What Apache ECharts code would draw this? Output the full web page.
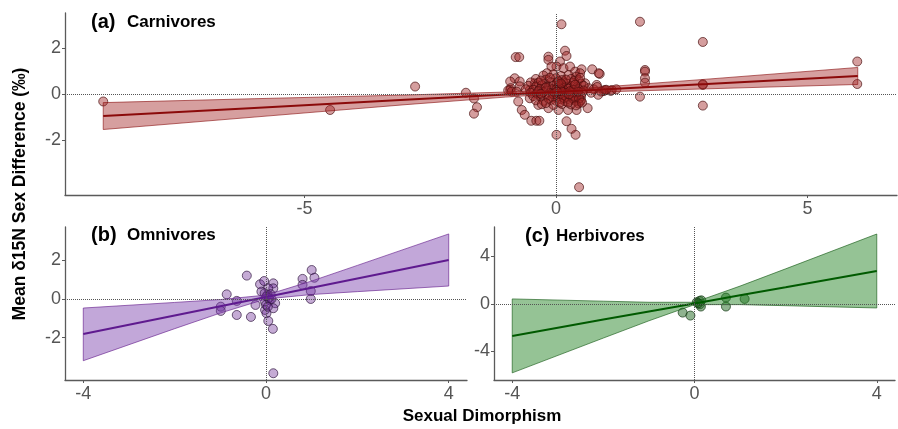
<!DOCTYPE html>
<html>
<head>
<meta charset="utf-8">
<script src="https://cdn.jsdelivr.net/npm/echarts@6/dist/echarts.min.js"></script>
<style>
  html, body { margin: 0; padding: 0; background: #fff; }
  #chart { width: 898px; height: 429px; }
</style>
</head>
<body>
<div id="chart"></div>
<script>
// ---------- data ----------
// Carnivores: [sexual dimorphism, mean d15N sex difference]
const carnivorePoints = [
  [-9.0,-0.33],[-4.49,-0.70],[-2.8,0.32],[-1.79,0.05],[-1.63,-0.2],[-1.57,-0.58],[-1.63,-0.86],
  [1.67,3.14],[2.92,2.26],[5.99,1.41],[5.99,0.43],[2.92,0.39],[2.92,0.42],[2.92,-0.51],[1.67,-0.12],
  [1.77,1.04],[1.77,0.97],[1.77,0.68],[1.77,0.49],[1.09,0.13],[0.95,0.12],[0.87,0.87],
  [0.11,3.03],[0.46,-4.06],[0.01,-1.78],[0.39,-1.78],[0.31,-1.52],[0.21,-1.19],[-0.49,-1.17],[-0.39,-1.17],[-0.33,-1.17],
  [-0.8,1.6],[-0.73,1.6],[-0.15,1.62],[-0.15,1.48],[0.18,1.88],[0.21,1.65],[0.08,1.41],[0.01,1.19],[0.15,1.12],
  [0.28,1.19],[0.38,0.97],[0.51,1.07],[0.72,1.07],[0.85,0.9],[0.48,0.9],[-0.09,1.19],[-0.18,0.9],
  [-0.82,0.68],[-0.72,0.54],[-0.91,0.54],[-0.91,0.17],[-0.9,0.25],[-0.72,0.33],[-0.42,0.46],[-0.52,0.17],[-0.52,-0.19],[-0.35,-0.04],
  [0.58,0.46],[0.81,0.39],[0.97,0.17],[0.84,-0.04],[1.11,0.17],
  [-0.75,-0.33],[-0.68,-0.7],[-0.62,-0.91],[-0.35,-0.48],[-0.15,-0.62],[0.05,-0.7],[0.24,-0.7],[0.41,-0.7],[0.63,-0.62],[0.48,-0.33],
  [-0.95,0.15],[-0.88,0.1],[-0.78,0.1],[0.65,0.25],[0.75,0.2],[0.82,0.3],[0.9,0.1],[1.0,0.18],[1.2,0.2],[0.7,0.05],
  [-0.25,0.8],[-0.05,0.85],[0.1,0.78],[0.25,0.82],[0.4,0.75],
  [-0.4,0.65],[-0.2,0.62],[0.0,0.68],[0.12,0.6],[0.3,0.65],[0.45,0.6],
  [-0.5,0.5],[-0.35,0.48],[-0.22,0.45],[-0.1,0.5],[0.02,0.46],[0.15,0.5],[0.22,0.44],[0.35,0.48],[0.5,0.45],
  [-0.55,0.35],[-0.4,0.32],[-0.28,0.38],[-0.15,0.3],[-0.05,0.36],[0.05,0.32],[0.12,0.38],[0.2,0.3],[0.3,0.35],[0.42,0.3],[0.55,0.35],
  [-0.6,0.2],[-0.45,0.18],[-0.32,0.22],[-0.2,0.15],[-0.08,0.2],[0.0,0.18],[0.08,0.24],[0.16,0.16],[0.25,0.22],[0.35,0.18],[0.45,0.2],[0.55,0.15],
  [-0.5,0.05],[-0.38,0.02],[-0.25,0.08],[-0.12,0.04],[-0.02,0.06],[0.06,0.0],[0.14,0.08],[0.22,0.02],[0.32,0.06],[0.42,0.0],[0.52,0.05],
  [-0.45,-0.1],[-0.3,-0.12],[-0.18,-0.08],[-0.06,-0.14],[0.04,-0.1],[0.12,-0.06],[0.2,-0.12],[0.3,-0.08],[0.4,-0.14],[0.5,-0.1],
  [-0.4,-0.28],[-0.25,-0.3],[-0.1,-0.26],[0.0,-0.3],[0.1,-0.24],[0.18,-0.32],[0.28,-0.26],[0.38,-0.3],[0.5,-0.28],
  [-0.28,-0.45],[-0.05,-0.48],[0.12,-0.44],[0.3,-0.46],[0.45,-0.42],
  [-0.3,0.58],[-0.12,0.7],[0.05,0.55],[0.2,0.62],[0.36,0.56],[0.48,0.7],
  [-0.2,0.28],[0.1,0.12],[0.28,0.12],[0.38,0.4],[-0.05,-0.02],[0.16,-0.18],[0.34,-0.2],[0.46,-0.2],
  [-0.35,0.12],[-0.14,-0.2],[0.08,-0.38],[0.24,-0.38],[0.4,-0.5],[0.52,-0.38],[-0.2,-0.4],[0.02,0.1],
  [0.26,-0.02],[0.1,0.45],[-0.3,0.0],[0.44,0.1]
];
const carnivoreFitX  = [-9, -6, -3, -1, 0, 1, 3, 6];
const carnivoreFitY  = [-0.96, -0.61, -0.26, -0.03, 0.08, 0.20, 0.43, 0.78];
const carnivoreLower = [-1.55, -1.01, -0.47, -0.14, 0.00, 0.09, 0.22, 0.41];
const carnivoreUpper = [-0.38, -0.21, -0.05, 0.08, 0.16, 0.31, 0.64, 1.15];

// Omnivores
const omnivorePoints = [
  [-0.42,1.21],[-0.86,0.24],[-0.64,-0.1],[-0.64,-0.83],[-0.33,-0.93],[-0.23,-0.31],[-0.13,0.76],[-0.04,0.93],
  [0.16,0.81],[0.16,0.55],[0.05,0.55],[-0.1,0.38],[0.01,0.12],[-0.02,-0.14],[0.08,-0.05],[0.2,-0.22],
  [0.16,-0.48],[-0.02,-0.57],[0.01,-0.74],[0.05,-1.14],[0.15,-1.55],[0.16,-3.85],[0.8,1.04],[0.8,0.73],
  [1.0,1.5],[1.06,1.1],[0.98,0.41],[0.98,0.0],[-0.99,-0.4],[-0.99,-0.62],[0.03,0.2],[0.06,0.05],
  [-0.03,0.3],[0.1,0.25],[0.0,-0.3],[0.04,-0.4],[0.12,0.0]
];
const omnivoreFitX  = [-4, -2, -1, 0, 1, 2, 4];
const omnivoreFitY  = [-1.82, -0.86, -0.38, 0.10, 0.58, 1.06, 2.02];
const omnivoreLower = [-3.20, -1.54, -0.73, 0.00, 0.23, 0.38, 0.67];
const omnivoreUpper = [-0.47, -0.18, -0.03, 0.20, 0.93, 1.74, 3.37];

// Herbivores
const herbivorePoints = [
  [-0.26,-0.73],[-0.09,-0.98],[0.11,0.25],[0.12,-0.03],[0.14,-0.22],[0.05,0.14],
  [0.69,0.53],[0.69,-0.22],[1.1,0.42],[0.15,0.3],[0.08,0.05]
];
const herbivoreFitX  = [-4, -2, -1, 0, 1, 2, 4];
const herbivoreFitY  = [-2.69, -1.32, -0.64, 0.04, 0.72, 1.40, 2.77];
const herbivoreLower = [-5.80, -2.87, -1.42, -0.06, -0.06, -0.15, -0.34];
const herbivoreUpper = [0.42, 0.23, 0.14, 0.14, 1.50, 2.95, 5.88];

// tick labels
const carnivoreXTicks = [-5, 0, 5];
const carnivoreYTicks = [-2, 0, 2];
const omnivoreXTicks = [-4, 0, 4];
const omnivoreYTicks = [-2, 0, 2];
const herbivoreXTicks = [-4, 0, 4];
const herbivoreYTicks = [-4, 0, 4];

// ---------- styling ----------
const FONT = 'Liberation Sans, Arial, sans-serif';
const AXIS_COLOR = '#5a5a5a';
const LABEL_COLOR = '#555';

function valueAxis(gridIndex, min, max, ticks, isY) {
  return {
    type: 'value', gridIndex, min, max,
    axisLine: { show: true, onZero: false, lineStyle: { color: AXIS_COLOR, width: 1.3 } },
    axisTick: { show: true, length: 3, customValues: ticks, lineStyle: { color: AXIS_COLOR } },
    axisLabel: {
      customValues: ticks, color: LABEL_COLOR, fontSize: 18, fontFamily: FONT,
      margin: isY ? 4 : 5,
      formatter: v => String(v)
    },
    splitLine: { show: false }
  };
}

function pointsSeries(gi, data, fill, border, size) {
  return {
    type: 'scatter', xAxisIndex: gi, yAxisIndex: gi, data,
    symbolSize: size, z: 2,
    itemStyle: { color: fill, borderColor: border, borderWidth: 1 },
    markLine: {
      silent: true, symbol: ['none', 'none'], label: { show: false },
      lineStyle: { type: 'dotted', color: '#555', width: 1 },
      animation: false,
      data: [{ yAxis: 0 }, { xAxis: 0 }]
    }
  };
}

function bandSeries(gi, xs, lo, hi, fill, stroke) {
  const rows = xs.map((x, i) => [x, lo[i], hi[i]]);
  return {
    type: 'custom', xAxisIndex: gi, yAxisIndex: gi, data: rows, z: 3, silent: true, clip: true,
    encode: { x: 0, y: [1, 2] },
    renderItem(params, api) {
      if (params.dataIndex !== 0) return null;
      const pts = [];
      rows.forEach(r => pts.push(api.coord([r[0], r[2]])));
      for (let i = rows.length - 1; i >= 0; i--) pts.push(api.coord([rows[i][0], rows[i][1]]));
      return { type: 'polygon', shape: { points: pts }, style: { fill, stroke, lineWidth: 0.8 } };
    }
  };
}

function fitSeries(gi, xs, ys, color) {
  return {
    type: 'line', xAxisIndex: gi, yAxisIndex: gi, z: 4,
    data: xs.map((x, i) => [x, ys[i]]),
    symbol: 'none', silent: true,
    lineStyle: { color, width: 2 }
  };
}

function panelTitle(tag, name, left, tagLeft, cy) {
  return [
    { type: 'text', left: tagLeft, top: cy - 12,
      style: { text: tag, font: 'bold 20px ' + FONT, fill: '#000' } },
    { type: 'text', left: left, top: cy - 10,
      style: { text: name, font: 'bold 17px ' + FONT, fill: '#000' } }
  ];
}

const chart = echarts.init(document.getElementById('chart'), null, { renderer: 'canvas' });

chart.setOption({
  animation: false,
  backgroundColor: '#fff',
  grid: [
    { left: 65, top: 13, width: 832, height: 182 },
    { left: 65, top: 227, width: 402, height: 153 },
    { left: 494, top: 227, width: 401, height: 153 }
  ],
  xAxis: [
    valueAxis(0, -9.76, 6.78, carnivoreXTicks, false),
    valueAxis(1, -4.4, 4.4, omnivoreXTicks, false),
    valueAxis(2, -4.4, 4.4, herbivoreXTicks, false)
  ],
  yAxis: [
    valueAxis(0, -4.4, 3.52, carnivoreYTicks, true),
    valueAxis(1, -4.2, 3.73, omnivoreYTicks, true),
    valueAxis(2, -6.4, 6.47, herbivoreYTicks, true)
  ],
  series: [
    pointsSeries(0, carnivorePoints, 'rgba(160,35,35,0.55)', 'rgba(70,12,12,0.85)', 9),
    bandSeries(0, carnivoreFitX, carnivoreLower, carnivoreUpper, 'rgba(165,42,42,0.45)', 'rgba(140,20,20,0.8)'),
    fitSeries(0, carnivoreFitX, carnivoreFitY, '#8b0a0a'),

    pointsSeries(1, omnivorePoints, 'rgba(110,45,150,0.5)', 'rgba(45,20,60,0.85)', 9),
    bandSeries(1, omnivoreFitX, omnivoreLower, omnivoreUpper, 'rgba(120,60,170,0.45)', 'rgba(100,30,140,0.8)'),
    fitSeries(1, omnivoreFitX, omnivoreFitY, '#5f1a8f'),

    pointsSeries(2, herbivorePoints, 'rgba(40,110,40,0.65)', 'rgba(20,55,20,0.9)', 9),
    bandSeries(2, herbivoreFitX, herbivoreLower, herbivoreUpper, 'rgba(34,130,34,0.48)', 'rgba(20,90,20,0.8)'),
    fitSeries(2, herbivoreFitX, herbivoreFitY, '#005a00')
  ],
  graphic: [
    ...panelTitle('(a)', 'Carnivores', 127, 91, 24),
    ...panelTitle('(b)', 'Omnivores', 127, 91, 237),
    ...panelTitle('(c)', 'Herbivores', 556, 525, 238),
    { type: 'text', x: 20, y: 194, rotation: Math.PI / 2,
      style: { text: 'Mean δ15N Sex Difference (‰)', font: 'bold 17.5px ' + FONT, fill: '#000',
               align: 'center', verticalAlign: 'middle' } },
    { type: 'text', x: 482, y: 416,
      style: { text: 'Sexual Dimorphism', font: 'bold 17px ' + FONT, fill: '#000',
               align: 'center', verticalAlign: 'middle' } }
  ]
});
</script>
</body>
</html>
